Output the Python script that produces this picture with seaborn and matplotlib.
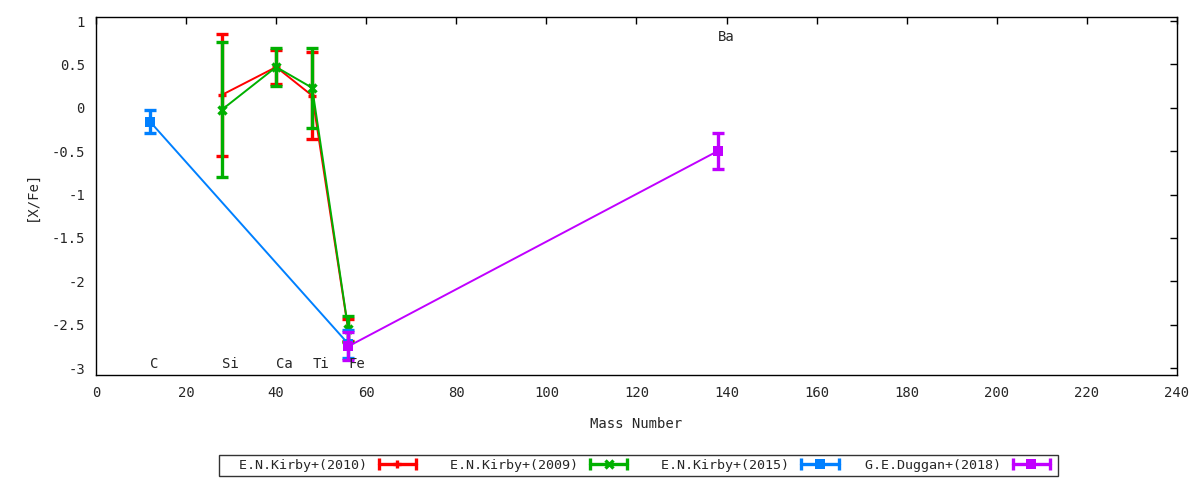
import numpy as np
import pandas as pd
import matplotlib
matplotlib.use("Agg")
import matplotlib.pyplot as plt
import seaborn as sns
from matplotlib.lines import Line2D
from matplotlib.legend_handler import HandlerLine2D, HandlerTuple

# data
kirby2010_mass = [28, 40, 48, 56]
kirby2010_val = [0.15, 0.47, 0.14, -2.56]
kirby2010_err = [0.70, 0.20, 0.50, 0.13]

kirby2009_mass = [28, 40, 48, 56]
kirby2009_val = [-0.02, 0.47, 0.23, -2.55]
kirby2009_err = [0.78, 0.22, 0.46, 0.15]

kirby2015_mass = [12, 56]
kirby2015_val = [-0.16, -2.72]
kirby2015_err = [0.13, 0.16]

duggan2018_mass = [56, 138]
duggan2018_val = [-2.75, -0.50]
duggan2018_err = [0.16, 0.21]

element_names = ["C", "Si", "Ca", "Ti", "Fe", "Ba"]
element_mass = [12, 28, 40, 48, 56, 138]
element_label_y = [-2.95, -2.95, -2.95, -2.95, -2.95, 0.82]

series = [
    ("E.N.Kirby+(2010)", kirby2010_mass, kirby2010_val, kirby2010_err, "#ff0000", "+"),
    ("E.N.Kirby+(2009)", kirby2009_mass, kirby2009_val, kirby2009_err, "#00b000", "x"),
    ("E.N.Kirby+(2015)", kirby2015_mass, kirby2015_val, kirby2015_err, "#0080ff", "s"),
    ("G.E.Duggan+(2018)", duggan2018_mass, duggan2018_val, duggan2018_err, "#c000ff", "s"),
]

sns.set_style("white")
plt.rcParams["font.family"] = ["DejaVu Sans Mono", "DejaVu Sans"]
plt.rcParams["font.size"] = 9.6

fig = plt.figure(figsize=(12, 4.8), dpi=100)
ax = fig.add_axes([0.08, 0.21875, 0.9008, 0.7452])

handles = []
labels = []
for name, mass, val, err, color, mk in series:
    df = pd.DataFrame({"mass": mass, "val": val})
    msize = 7 if mk == "s" else 6
    mew = 0 if mk == "s" else 2.4
    ax.errorbar(mass, val, yerr=err, fmt="none", ecolor=color, elinewidth=2.4,
                capsize=4, capthick=2.4, zorder=3)
    sns.lineplot(data=df, x="mass", y="val", color=color, linewidth=1.4,
                 marker=mk, markersize=msize, markeredgewidth=mew,
                 markeredgecolor=color, markerfacecolor=color,
                 ax=ax, zorder=3, legend=False)
    cap = Line2D([], [], color=color, linewidth=2.4, marker="|",
                 markersize=8, markeredgewidth=2.4)
    mid = Line2D([], [], color=color, linewidth=0, marker=mk,
                 markersize=msize, markeredgewidth=mew)
    handles.append((cap, mid))
    labels.append(name.rjust(18))

for el, m, yy in zip(element_names, element_mass, element_label_y):
    ax.text(m, yy, el, ha="left", va="center", fontsize=10)

ax.set_xlim(0, 240)
ax.set_ylim(-3.08, 1.043)
ax.set_xticks(np.arange(0, 241, 20))
yt = np.arange(-3, 1.01, 0.5)
ax.set_yticks(yt)
ax.set_yticklabels([("%g" % v).replace("\u2212", "-") for v in yt])
ax.tick_params(direction="in", length=5, width=1, top=True, right=True,
               labelsize=10, pad=8, color="black")
for s in ax.spines.values():
    s.set_color("black")
    s.set_linewidth(1)
ax.set_xlabel("Mass Number", fontsize=10, labelpad=12)
ax.set_ylabel("[X/Fe]", fontsize=10, labelpad=9)

hmap = {}
for cap, mid in handles:
    hmap[cap] = HandlerLine2D(numpoints=2)
    hmap[mid] = HandlerLine2D(numpoints=1)
hmap[tuple] = HandlerTuple(ndivide=1, pad=0)
leg = fig.legend(handles, labels, handler_map=hmap, loc="center",
                 bbox_to_anchor=(0.532, 0.0312), ncol=4, markerfirst=False,
                 frameon=True, fancybox=False, edgecolor="black",
                 handlelength=3.4, columnspacing=1.05, handletextpad=0.6,
                 borderpad=0.3, fontsize=9.6)
leg.get_frame().set_linewidth(1)

fig.savefig("out.png", dpi=100)
